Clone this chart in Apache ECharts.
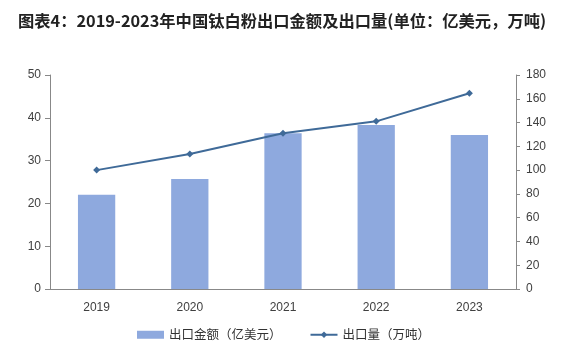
<!DOCTYPE html>
<html><head><meta charset="utf-8">
<script src="https://cdn.jsdelivr.net/npm/echarts@6/dist/echarts.min.js"></script>
<style>html,body{margin:0;padding:0;background:#fff}#c{width:567px;height:354px}</style>
</head><body><div id="c"></div>
<script>
const titleText = '图表4：2019-2023年中国钛白粉出口金额及出口量(单位：亿美元，万吨)';
const categories = ['2019', '2020', '2021', '2022', '2023'];
const exportValue = [22, 25.7, 36.4, 38.3, 36.0];
const exportVolume = [100, 113.5, 131, 141, 164.6];
const seriesNames = ['出口金额（亿美元）', '出口量（万吨）'];

const chart = echarts.init(document.getElementById('c'), null, {renderer: 'canvas'});
const axisLabel = {color: '#404040', fontSize: 12, fontFamily: 'Liberation Sans, Arial, sans-serif'};
chart.setOption({
  animation: false,
  backgroundColor: '#fff',
  title: {
    text: titleText, left: 13, top: 8,
    textStyle: {fontSize: 16.3, fontWeight: 'bold', color: '#222', fontFamily: 'Noto Sans CJK SC'}
  },
  legend: {
    bottom: 8, left: 'center', itemGap: 28, itemWidth: 27, itemHeight: 8,
    textStyle: {fontSize: 12.5, color: '#333', fontFamily: 'Noto Sans CJK SC'},
    data: [
      {name: seriesNames[0], icon: 'rect'},
      {name: seriesNames[1]}
    ]
  },
  grid: {left: 50, right: 51, top: 75, bottom: 65},
  xAxis: {
    type: 'category', data: categories,
    axisLine: {lineStyle: {color: '#888'}},
    axisTick: {length: 5, lineStyle: {color: '#888'}},
    axisLabel: Object.assign({margin: 13}, axisLabel)
  },
  yAxis: [
    {type: 'value', min: 0, max: 50, interval: 10, splitLine: {show: false},
     axisLine: {show: true, lineStyle: {color: '#888'}},
     axisTick: {show: true, length: 5, lineStyle: {color: '#888'}},
     axisLabel: Object.assign({margin: 9}, axisLabel)},
    {type: 'value', min: 0, max: 180, interval: 20, splitLine: {show: false},
     axisLine: {show: true, lineStyle: {color: '#888'}},
     axisTick: {show: true, length: 4, lineStyle: {color: '#888'}},
     axisLabel: Object.assign({margin: 10}, axisLabel)}
  ],
  series: [
    {name: seriesNames[0], type: 'bar', data: exportValue, barWidth: '40%',
     itemStyle: {color: '#8EA9DE'}},
    {name: seriesNames[1], type: 'line', yAxisIndex: 1, data: exportVolume,
     symbol: 'diamond', symbolSize: 7,
     lineStyle: {color: '#3F6A98', width: 2}, itemStyle: {color: '#3F6A98'}}
  ]
});
</script></body></html>
